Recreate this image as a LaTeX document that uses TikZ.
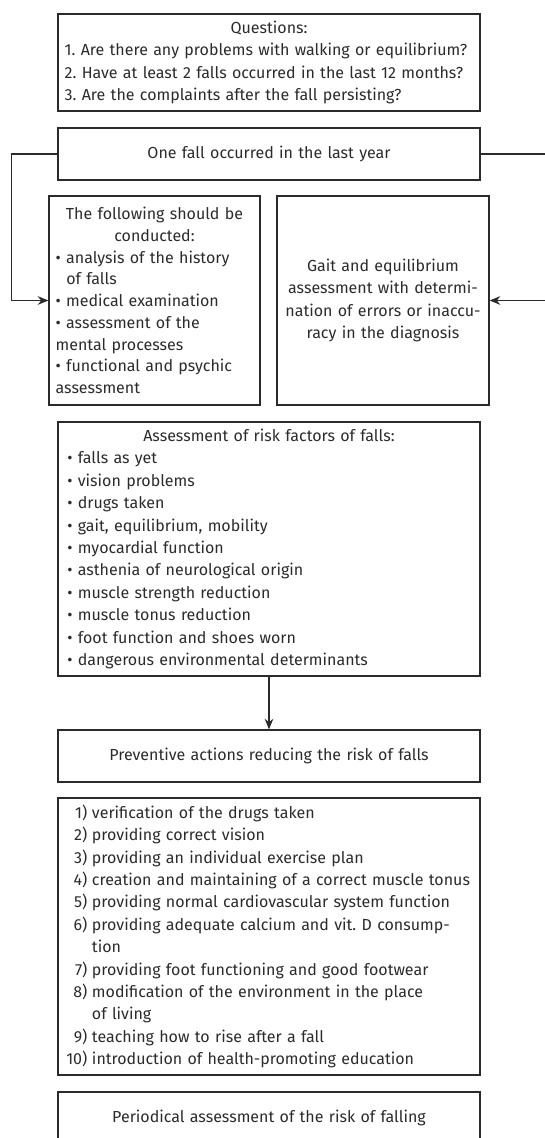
\documentclass[tikz,border=0pt]{standalone}
\usepackage{fontspec}
\setmainfont{Fira Sans}[Numbers=Proportional]
\usetikzlibrary{arrows.meta}

\definecolor{inkgray}{HTML}{2B2B2B}

\newcommand{\headline}[1]{\makebox[\hsize][c]{#1}}
\newcommand{\numitem}[2]{\makebox[17pt][r]{#1)}\hspace{3.5pt}#2}
\newcommand{\numcont}[1]{\hspace*{20.5pt}#1}

\tikzset{
  frame/.style={draw=inkgray, line width=0.95pt, text=inkgray, inner xsep=5pt, inner ysep=0pt,
    font=\fontsize{12}{16.8}\selectfont},
}

\begin{document}
\frenchspacing
\begin{tikzpicture}[x=0.75pt, y=-0.75pt, >={Stealth[length=8pt,width=6.5pt]}]
        \useasboundingbox (0,0) rectangle (545,1138);
        \clip (0,0) rectangle (545,1138);

        \node[frame, text width=306.5pt, minimum height=72.75pt, align=left] (questions) at (269,62.5)
          {\headline{Questions:}\\
           1. Are there any problems with walking or equilibrium?\\
           2. Have at least 2 falls occurred in the last 12 months?\\
           3. Are the complaints after the fall persisting?};
        \node[frame, text width=306.5pt, minimum height=39pt, align=center] (onefall) at (269,154)
          {One fall occurred in the last year};
        \node[frame, text width=148.25pt, minimum height=156.75pt, align=left,
          font=\fontsize{12}{16.3}\selectfont] (conduct) at (154.5,300.5)
          {\headline{The following should be}\\
           \headline{conducted:}\\
           • analysis of the history\\
           \hspace*{8pt}of falls\\
           • medical examination\\
           • assessment of the\\
           mental processes\\
           • functional and psychic\\
           assessment};
        \node[frame, text width=149pt, minimum height=156.75pt, align=center] (gait) at (383,300.5)
          {Gait and equilibrium\\
           assessment with determi-\\
           nation of errors or inaccu-\\
           racy in the diagnosis};
        \node[frame, text width=306.5pt, minimum height=190.5pt, align=left] (riskfactors) at (269,549)
          {\headline{Assessment of risk factors of falls:}\\
           \hspace*{2pt}• falls as yet\\
           \hspace*{2pt}• vision problems\\
           \hspace*{2pt}• drugs taken\\
           \hspace*{2pt}• gait, equilibrium, mobility\\
           \hspace*{2pt}• myocardial function\\
           \hspace*{2pt}• asthenia of neurological origin\\
           \hspace*{2pt}• muscle strength reduction\\
           \hspace*{2pt}• muscle tonus reduction\\
           \hspace*{2pt}• foot function and shoes worn\\
           \hspace*{2pt}• dangerous environmental determinants};
        \node[frame, text width=306.5pt, minimum height=39pt, align=center] (preventive) at (269,756)
          {Preventive actions reducing the risk of falls};
        \node[frame, text width=306.5pt, minimum height=207.75pt, align=left] (actions) at (269,936.5)
          {\numitem{1}{verification of the drugs taken}\\
           \numitem{2}{providing correct vision}\\
           \numitem{3}{providing an individual exercise plan}\\
           \numitem{4}{creation and maintaining of a correct muscle tonus}\\
           \numitem{5}{providing normal cardiovascular system function}\\
           \numitem{6}{providing adequate calcium and vit. D consump-}\\
           \numcont{tion}\\
           \numitem{7}{providing foot functioning and good footwear}\\
           \numitem{8}{modification of the environment in the place}\\
           \numcont{of living}\\
           \numitem{9}{teaching how to rise after a fall}\\
           \numitem{10}{introduction of health-promoting education}};
        \node[frame, text width=306.5pt, minimum height=39pt, align=center] (periodical) at (269,1118)
          {Periodical assessment of the risk of falling};

        \draw[->, draw=inkgray, line width=0.95pt] (onefall.west) -- ++(-46,0) |- (conduct.west);
        \draw[->, draw=inkgray, line width=0.95pt] (onefall.east) -- ++(75,0) |- (gait.east);
        \draw[->, draw=inkgray, line width=0.95pt] (riskfactors) -- (preventive);
      \end{tikzpicture}
\end{document}
